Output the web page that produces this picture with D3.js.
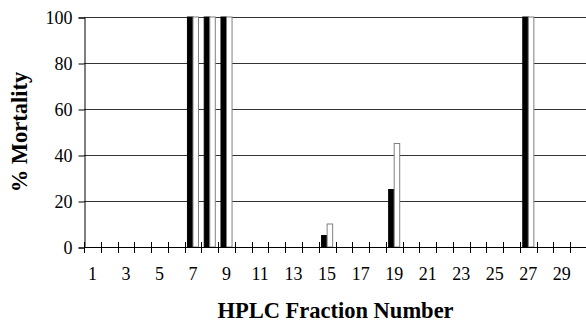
<html>
<head>
    <title>HPLC Fraction Mortality</title>
    <style>
        body { margin: 0; background: #fff; }
        #chart { width: 586px; height: 323px; }
    </style>
</head>
<body>
<div id="chart"></div>
</body>
<script src="https://d3js.org/d3.v7.min.js"></script>
<script>

  const width = 586;
  const height = 323;
  const serif = 'Liberation Serif';

  // fractions 1..30
  const fractions = d3.range(1, 31);
  // black bars
  const seriesA = [0, 0, 0, 0, 0, 0, 100, 100, 100, 0, 0, 0, 0, 0, 5, 0, 0, 0, 25, 0, 0, 0, 0, 0, 0, 0, 100, 0, 0, 0];
  // white bars
  const seriesB = [0, 0, 0, 0, 0, 0, 100, 100, 100, 0, 0, 0, 0, 0, 10, 0, 0, 0, 45, 0, 0, 0, 0, 0, 0, 0, 100, 0, 0, 0];
  const yTicks = [0, 20, 40, 60, 80, 100];
  const xLabels = fractions.filter(d => d % 2 === 1);

  const mLeft = 84, mRight = 587, mTop = 17, mBottom = 247;

  const svg = d3.select('#chart')
    .append('svg')
    .attr('width', width)
    .attr('height', height)

  const xScale = d3.scaleBand().domain(fractions).range([mLeft, mRight]).padding(0)
  const inner = d3.scaleBand().domain(['a', 'b']).range([xScale.bandwidth() * 0.17, xScale.bandwidth() * 0.83])
  const yScale = d3.scaleLinear().domain([0, 100]).range([mBottom, mTop])

  // gridlines
  svg.append('g')
    .selectAll('line')
    .data(yTicks.filter(d => d > 0))
    .join('line')
    .attr('x1', mLeft)
    .attr('x2', width)
    .attr('y1', d => yScale(d) + 0.5)
    .attr('y2', d => yScale(d) + 0.5)
    .attr('stroke', '#333')
    .attr('stroke-width', 1)

  // bars
  const bars = fractions.map((f, i) => [
    {f, key: 'a', v: seriesA[i]},
    {f, key: 'b', v: seriesB[i]}
  ]).flat().filter(d => d.v > 0)

  svg.append('g')
    .selectAll('rect')
    .data(bars)
    .join('rect')
    .attr('x', d => xScale(d.f) + inner(d.key))
    .attr('y', d => yScale(d.v))
    .attr('width', inner.bandwidth())
    .attr('height', d => yScale(0) - yScale(d.v))
    .attr('fill', d => d.key === 'a' ? '#000' : '#fff')
    .attr('stroke', d => d.key === 'a' ? '#000' : '#808080')
    .attr('stroke-width', 1)

  // y axis
  const yAxis = d3.axisLeft(yScale).tickValues(yTicks).tickSize(6).tickPadding(6)
  const gy = svg.append('g').attr('transform', `translate(${mLeft + 0.5}, 0.5)`).call(yAxis)
  gy.attr('font-family', serif).attr('font-size', 18)
  gy.select('.domain').attr('stroke', '#000')
  gy.selectAll('text').attr('font-family', serif).attr('font-size', 18).attr('fill', '#000')

  // x axis line + crossing ticks
  const gx = svg.append('g')
  gx.append('line')
    .attr('x1', mLeft)
    .attr('x2', width)
    .attr('y1', mBottom + 0.5)
    .attr('y2', mBottom + 0.5)
    .attr('stroke', '#000')
  gx.selectAll('.tick')
    .data(fractions)
    .join('line')
    .attr('class', 'tick')
    .attr('x1', d => Math.round(xScale(d)) + 0.5)
    .attr('x2', d => Math.round(xScale(d)) + 0.5)
    .attr('y1', mBottom - 5)
    .attr('y2', mBottom + 6)
    .attr('stroke', '#000')
  gx.selectAll('.lbl')
    .data(xLabels)
    .join('text')
    .attr('class', 'lbl')
    .attr('x', d => xScale(d) + xScale.bandwidth() / 2)
    .attr('y', 280)
    .attr('text-anchor', 'middle')
    .attr('font-family', serif)
    .attr('font-size', 18)
    .text(d => d)

  // titles
  svg.append('text')
    .attr('x', (mLeft + mRight) / 2)
    .attr('y', 318)
    .attr('text-anchor', 'middle')
    .attr('font-family', serif)
    .attr('font-size', 22.5)
    .attr('font-weight', 'bold')
    .text('HPLC Fraction Number')

  svg.append('text')
    .attr('transform', `translate(27, ${(mTop + mBottom) / 2}) rotate(-90)`)
    .attr('text-anchor', 'middle')
    .attr('font-family', serif)
    .attr('font-size', 22.5)
    .attr('font-weight', 'bold')
    .text('% Mortality')

</script>
</html>
